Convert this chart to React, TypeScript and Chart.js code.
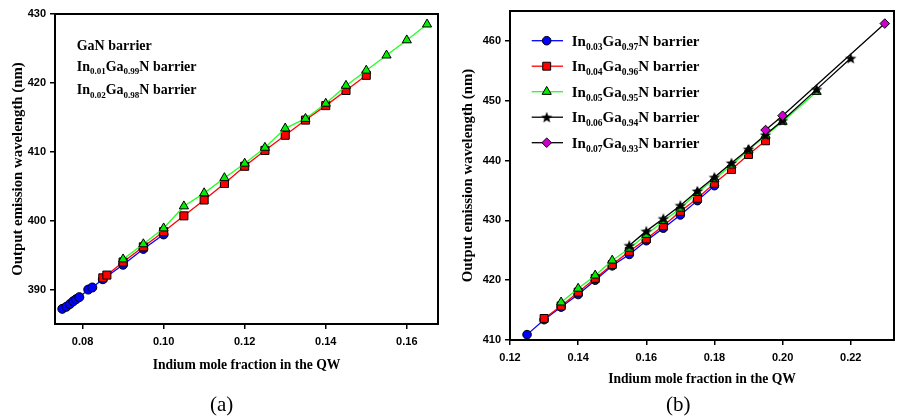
import React, { useEffect, useRef } from "react";
import { Chart, registerables } from "chart.js";

Chart.register(...registerables);

// ---------------- Panel (a) data ----------------
const aGaNX = [0.075, 0.076, 0.0769, 0.0777, 0.0784, 0.0792, 0.0814, 0.0824, 0.085, 0.09, 0.095, 0.10];
const aGaNY = [387.2, 387.5, 387.9, 388.3, 388.6, 388.9, 390.0, 390.3, 391.5, 393.6, 395.9, 398.0];
const aIn01X = [0.085, 0.086, 0.09, 0.095, 0.10, 0.105, 0.11, 0.115, 0.12, 0.125, 0.13, 0.135, 0.14, 0.145, 0.15];
const aIn01Y = [391.7, 392.1, 394.0, 396.2, 398.4, 400.7, 403.0, 405.4, 407.9, 410.2, 412.4, 414.6, 416.7, 418.9, 421.1];
const aIn02X = [0.09, 0.095, 0.10, 0.105, 0.11, 0.115, 0.12, 0.125, 0.13, 0.135, 0.14, 0.145, 0.15, 0.155, 0.16, 0.165];
const aIn02Y = [394.4, 396.6, 398.9, 402.1, 404.0, 406.2, 408.3, 410.6, 413.4, 414.8, 417.0, 419.6, 421.8, 424.0, 426.2, 428.5];
const aXTicks = [0.08, 0.10, 0.12, 0.14, 0.16];
const aYTicks = [390, 400, 410, 420, 430];
const aLabels = ["GaN barrier", "In_{0.01}Ga_{0.99}N barrier", "In_{0.02}Ga_{0.98}N barrier"];

// ---------------- Panel (b) data ----------------
const bIn03X = [0.125, 0.13, 0.135, 0.14, 0.145, 0.15, 0.155, 0.16, 0.165, 0.17, 0.175, 0.18];
const bIn03Y = [410.9, 413.4, 415.5, 417.6, 420.0, 422.4, 424.3, 426.6, 428.7, 430.9, 433.3, 435.8];
const bIn04X = [0.13, 0.135, 0.14, 0.145, 0.15, 0.155, 0.16, 0.165, 0.17, 0.175, 0.18, 0.185, 0.19, 0.195];
const bIn04Y = [413.6, 415.7, 418.0, 420.3, 422.6, 424.8, 426.9, 429.1, 431.5, 433.7, 436.2, 438.5, 441.0, 443.3];
const bIn05X = [0.135, 0.14, 0.145, 0.15, 0.155, 0.16, 0.165, 0.17, 0.175, 0.18, 0.185, 0.19, 0.195, 0.20, 0.21];
const bIn05Y = [416.3, 418.6, 420.8, 423.3, 425.3, 427.6, 429.9, 432.0, 434.6, 436.9, 439.2, 441.7, 444.2, 446.5, 451.5];
const bIn06X = [0.155, 0.16, 0.165, 0.17, 0.175, 0.18, 0.185, 0.19, 0.195, 0.20, 0.21, 0.22];
const bIn06Y = [425.8, 428.2, 430.3, 432.5, 434.9, 437.2, 439.6, 441.9, 444.3, 446.7, 451.9, 457.1];
const bIn07X = [0.195, 0.20, 0.23];
const bIn07Y = [445.1, 447.5, 462.9];
const bXTicks = [0.12, 0.14, 0.16, 0.18, 0.20, 0.22];
const bYTicks = [410, 420, 430, 440, 450, 460];
const bLabels = [
  "In_{0.03}Ga_{0.97}N barrier",
  "In_{0.04}Ga_{0.96}N barrier",
  "In_{0.05}Ga_{0.95}N barrier",
  "In_{0.06}Ga_{0.94}N barrier",
  "In_{0.07}Ga_{0.93}N barrier",
];

const xTitle = "Indium mole fraction in the QW";
const yTitle = "Output emission wavelength (nm)";

const SERIF = "'Liberation Serif', 'Times New Roman', serif";
const SANS = "'Liberation Sans', Arial, sans-serif";

function makeStar(R: number): HTMLCanvasElement {
  const size = Math.ceil(R * 2 + 2);
  const c = document.createElement("canvas");
  c.width = size;
  c.height = size;
  const g = c.getContext("2d")!;
  const cx = size / 2, cy = size / 2 + 0.5;
  const r = R * 0.42;
  g.beginPath();
  for (let i = 0; i < 10; i++) {
    const rad = i % 2 === 0 ? R : r;
    const a = -Math.PI / 2 + (i * Math.PI) / 5;
    const px = cx + Math.cos(a) * rad;
    const py = cy + Math.sin(a) * rad;
    if (i === 0) g.moveTo(px, py);
    else g.lineTo(px, py);
  }
  g.closePath();
  g.fillStyle = "#000";
  g.fill();
  return c;
}

type Series = { label: string; xs: number[]; ys: number[]; fill: string; line: string; style: any; radius: number };

function datasets(series: Series[]) {
  return series.map((s, i) => ({
    label: s.label,
    data: s.xs.map((x, j) => ({ x, y: s.ys[j] })),
    borderColor: s.line,
    backgroundColor: s.fill,
    borderWidth: 1.3,
    pointStyle: s.style,
    pointRadius: s.radius,
    pointBackgroundColor: s.fill,
    pointBorderColor: "#000",
    pointBorderWidth: 1,
    order: series.length - i,
    tension: 0,
    clip: false as any,
  }));
}

function drawRich(ctx: CanvasRenderingContext2D, text: string, x: number, base: number, size: number, sub: number, shift: number) {
  const parts = text.split(/(_\{[^}]*\})/).filter((p) => p.length > 0);
  let cx = x;
  ctx.textAlign = "left";
  ctx.textBaseline = "alphabetic";
  ctx.fillStyle = "#000";
  for (const part of parts) {
    const m = part.match(/^_\{([^}]*)\}$/);
    if (m) {
      ctx.font = `bold ${sub}px ${SERIF}`;
      ctx.fillText(m[1], cx, base + shift);
      cx += ctx.measureText(m[1]).width;
    } else {
      ctx.font = `bold ${size}px ${SERIF}`;
      ctx.fillText(part, cx, base);
      cx += ctx.measureText(part).width;
    }
  }
}

function drawMarker(ctx: CanvasRenderingContext2D, s: Series, x: number, y: number) {
  const r = s.radius;
  ctx.save();
  ctx.fillStyle = s.fill;
  ctx.strokeStyle = "#000";
  ctx.lineWidth = 1;
  if (typeof s.style !== "string") {
    const img = s.style as HTMLCanvasElement;
    ctx.drawImage(img, x - img.width / 2, y - img.height / 2);
    ctx.restore();
    return;
  }
  ctx.beginPath();
  if (s.style === "circle") {
    ctx.arc(x, y, r, 0, Math.PI * 2);
  } else if (s.style === "rect") {
    const h = Math.SQRT1_2 * r;
    ctx.rect(x - h, y - h, 2 * h, 2 * h);
  } else if (s.style === "triangle") {
    for (let i = 0; i < 3; i++) {
      const a = (i * 2 * Math.PI) / 3;
      const px = x + Math.sin(a) * r;
      const py = y - Math.cos(a) * r;
      if (i === 0) ctx.moveTo(px, py);
      else ctx.lineTo(px, py);
    }
    ctx.closePath();
  } else if (s.style === "rectRot") {
    ctx.moveTo(x - r, y);
    ctx.lineTo(x, y - r);
    ctx.lineTo(x + r, y);
    ctx.lineTo(x, y + r);
    ctx.closePath();
  }
  ctx.fill();
  ctx.stroke();
  ctx.restore();
}

type Panel = {
  series: Series[];
  xMin: number; xMax: number; yMin: number; yMax: number;
  xTicks: number[]; yTicks: number[];
  padding: { left: number; top: number; right: number; bottom: number };
  yWidth: number; xHeight: number; xTitlePad: number;
  tag: string; tagX: number;
  legend: (ctx: CanvasRenderingContext2D) => void;
};

function config(p: Panel): any {
  const tickFont = { family: SANS, size: 11, weight: "bold" as const };
  const xTitleFont = { family: SERIF, size: 13.6, weight: "bold" as const };
  const yTitleFont = { family: SERIF, size: 14.8, weight: "bold" as const };
  const grid = { drawOnChartArea: false, drawTicks: true, tickLength: 5, color: "#000", lineWidth: 1.5 };
  const border = { display: true, color: "#000", width: 2 };
  const extras = {
    id: "extras",
    afterDraw(chart: any) {
      const ctx: CanvasRenderingContext2D = chart.ctx;
      const a = chart.chartArea;
      ctx.save();
      ctx.strokeStyle = "#000";
      ctx.lineWidth = 2;
      ctx.strokeRect(a.left, a.top, a.right - a.left, a.bottom - a.top);
      p.legend(ctx);
      ctx.font = `21px ${SERIF}`;
      ctx.fillStyle = "#000";
      ctx.textAlign = "center";
      ctx.textBaseline = "middle";
      ctx.fillText(p.tag, p.tagX, 405);
      ctx.restore();
    },
  };
  return {
    type: "line",
    data: { datasets: datasets(p.series) },
    options: {
      responsive: false,
      animation: false,
      devicePixelRatio: 1,
      layout: { padding: p.padding },
      plugins: { legend: { display: false }, tooltip: { enabled: false } },
      scales: {
        x: {
          type: "linear",
          min: p.xMin,
          max: p.xMax,
          afterFit: (s: any) => { s.height = p.xHeight; },
          afterBuildTicks: (s: any) => { s.ticks = p.xTicks.map((v) => ({ value: v })); },
          ticks: { callback: (v: any) => Number(v).toFixed(2), font: tickFont, color: "#000", padding: 6, maxRotation: 0, autoSkip: false },
          grid,
          border,
          title: { display: true, text: xTitle, font: xTitleFont, color: "#000", padding: { top: 0, bottom: p.xTitlePad } },
        },
        y: {
          type: "linear",
          min: p.yMin,
          max: p.yMax,
          afterFit: (s: any) => { s.width = p.yWidth; },
          afterBuildTicks: (s: any) => { s.ticks = p.yTicks.map((v) => ({ value: v })); },
          ticks: { callback: (v: any) => String(v), font: tickFont, color: "#000", padding: 4, autoSkip: false },
          grid,
          border,
          title: { display: true, text: yTitle, font: yTitleFont, color: "#000", padding: { top: 9.1, bottom: 0 } },
        },
      },
    },
    plugins: [extras],
  };
}

export default function App() {
  const refA = useRef<HTMLCanvasElement>(null);
  const refB = useRef<HTMLCanvasElement>(null);

  useEffect(() => {
    const star = makeStar(6);
    const seriesA: Series[] = [
      { label: aLabels[0], xs: aGaNX, ys: aGaNY, fill: "#0000ff", line: "#0000ff", style: "circle", radius: 4.5 },
      { label: aLabels[1], xs: aIn01X, ys: aIn01Y, fill: "#ff0000", line: "#ff0000", style: "rect", radius: 5.7 },
      { label: aLabels[2], xs: aIn02X, ys: aIn02Y, fill: "#00ee00", line: "#22ff22", style: "triangle", radius: 5.3 },
    ];
    const seriesB: Series[] = [
      { label: bLabels[0], xs: bIn03X, ys: bIn03Y, fill: "#0000ff", line: "#0000ff", style: "circle", radius: 4.3 },
      { label: bLabels[1], xs: bIn04X, ys: bIn04Y, fill: "#ff0000", line: "#ff0000", style: "rect", radius: 5.6 },
      { label: bLabels[2], xs: bIn05X, ys: bIn05Y, fill: "#00ee00", line: "#22ff22", style: "triangle", radius: 5.3 },
      { label: bLabels[3], xs: bIn06X, ys: bIn06Y, fill: "#000000", line: "#000000", style: star, radius: 6 },
      { label: bLabels[4], xs: bIn07X, ys: bIn07Y, fill: "#cc00cc", line: "#000000", style: "rectRot", radius: 4.8 },
    ];

    const panelA: Panel = {
      series: seriesA,
      xMin: 0.0732, xMax: 0.1677, yMin: 385, yMax: 430,
      xTicks: aXTicks, yTicks: aYTicks,
      padding: { left: 0, top: 14, right: 12, bottom: 36 },
      yWidth: 55, xHeight: 60, xTitlePad: 10.8,
      tag: "(a)", tagX: 221.7,
      legend: (ctx) => {
        const bases = [50, 70.5, 94];
        seriesA.forEach((s, i) => drawRich(ctx, s.label, 76.7, bases[i], 14, 9, 3.5));
      },
    };
    const panelB: Panel = {
      series: seriesB,
      xMin: 0.12, xMax: 0.2327, yMin: 410, yMax: 465,
      xTicks: bXTicks, yTicks: bYTicks,
      padding: { left: 0, top: 11, right: 1, bottom: 20 },
      yWidth: 60, xHeight: 60, xTitlePad: 12.3,
      tag: "(b)", tagX: 228.3,
      legend: (ctx) => {
        seriesB.forEach((s, i) => {
          const cy = 40.7 + i * 25.5;
          ctx.save();
          ctx.strokeStyle = s.line;
          ctx.lineWidth = 1.3;
          ctx.beginPath();
          ctx.moveTo(81.7, cy);
          ctx.lineTo(113, cy);
          ctx.stroke();
          ctx.restore();
          drawMarker(ctx, s, 96.7, cy);
          drawRich(ctx, s.label, 121.7, cy + 5.2, 15, 9.5, 4);
        });
      },
    };

    const ca = new Chart(refA.current!, config(panelA));
    const cb = new Chart(refB.current!, config(panelB));
    return () => {
      ca.destroy();
      cb.destroy();
    };
  }, []);

  return (
    <div style={{ position: "fixed", left: 0, top: 0, width: 901, height: 420, background: "#fff" }}>
      <canvas ref={refA} width={450} height={420} style={{ position: "absolute", left: 0, top: 0 }} />
      <canvas ref={refB} width={451} height={420} style={{ position: "absolute", left: 450, top: 0 }} />
    </div>
  );
}
